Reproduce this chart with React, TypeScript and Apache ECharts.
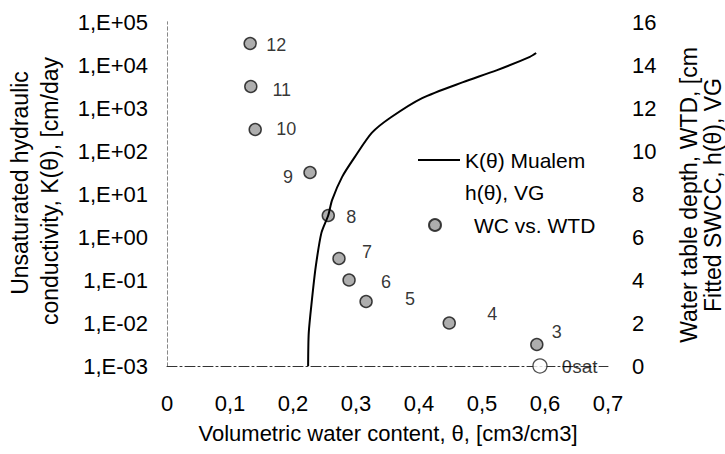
import React, { useEffect, useRef } from "react";
import * as echarts from "echarts";

// K(θ) Mualem curve
const thetaK = [0.224, 0.225, 0.23, 0.236, 0.245, 0.256, 0.262, 0.278, 0.298, 0.325, 0.355, 0.405, 0.47, 0.523, 0.576, 0.586];
const kValues = [0.001, 0.0059, 0.034, 0.2, 1.23, 3.2, 7.2, 25, 72, 263, 600, 1700, 4000, 7500, 15500, 19000];

// WC vs. WTD points
const pointIds = ["12", "11", "10", "9", "8", "7", "6", "5", "4", "3"];
const wcTheta = [0.132, 0.133, 0.14, 0.227, 0.256, 0.273, 0.289, 0.316, 0.448, 0.587];
const wtd = [15, 13, 11, 9, 7, 5, 4, 3, 2, 1];

// saturated water content point
const satTheta = [0.592];
const satWtd = [0];
const satLabel = "θsat";

// tick labels
const xTickLabels = ["0", "0,1", "0,2", "0,3", "0,4", "0,5", "0,6", "0,7"];
const kTickLabels = ["1,E-03", "1,E-02", "1,E-01", "1,E+00", "1,E+01", "1,E+02", "1,E+03", "1,E+04", "1,E+05"];

// label offsets (style)
const labelOffsets = [[26, 1], [31, 3], [31, -1], [-22, 4], [23, 1], [28, -7], [37, 2], [44, -3], [43, -9], [20, -13]];

const FONT = "Liberation Sans, Arial, sans-serif";
const TXT = "#000";

export default function App() {
  const ref = useRef<HTMLDivElement>(null);
  useEffect(() => {
    document.body.style.margin = "0";
    const chart = echarts.init(ref.current!, undefined, { renderer: "svg" });
    const curve = thetaK.map((t, i) => [t, kValues[i]]);
    const ptLabel = { fontSize: 18, color: TXT, textBorderWidth: 0, fontFamily: FONT };
    const pts = wcTheta.map((t, i) => ({
      value: [t, wtd[i]],
      name: pointIds[i],
      label: { ...ptLabel, offset: labelOffsets[i] },
    }));
    const sat = satTheta.map((t, i) => ({ value: [t, satWtd[i]], name: satLabel }));
    const markerStyle = { color: "#9a9a9a", borderColor: "#111", borderWidth: 1.5 };
    chart.setOption({
      animation: false,
      backgroundColor: "#fff",
      textStyle: { fontFamily: FONT },
      grid: { left: 167, right: 117, top: 22, bottom: 88 },
      xAxis: {
        type: "value",
        min: 0,
        max: 0.7,
        interval: 0.1,
        axisLine: { show: true, lineStyle: { color: "#333", width: 1, type: [10, 3, 2, 3] } },
        axisTick: { show: false },
        splitLine: { show: false },
        axisLabel: {
          margin: 26,
          fontSize: 22,
          color: TXT,
          fontFamily: FONT,
          formatter: (v: number) => xTickLabels[Math.round(v * 10)] ?? "",
        },
      },
      yAxis: [
        {
          type: "log",
          logBase: 10,
          min: 0.001,
          max: 100000,
          splitNumber: 8,
          axisLine: { show: true, onZero: false, lineStyle: { color: "#888", type: [3, 3] } },
          axisTick: { show: false },
          splitLine: { show: false },
          axisLabel: {
            margin: 19,
            fontSize: 22,
            color: TXT,
            fontFamily: FONT,
            formatter: (v: number) => kTickLabels[Math.round(Math.log10(v)) + 3] ?? "",
          },
        },
        {
          type: "value",
          min: 0,
          max: 16,
          interval: 2,
          position: "right",
          axisLine: { show: true, lineStyle: { color: "#888", type: [3, 3] } },
          axisTick: { show: false },
          splitLine: { show: false },
          axisLabel: { margin: 24, fontSize: 22, color: TXT, fontFamily: FONT },
        },
      ],
      legend: [
        {
          data: [{ name: "K(θ) Mualem", icon: "rect" }],
          left: 418,
          top: 148,
          padding: 0,
          selectedMode: false,
          itemWidth: 42,
          itemHeight: 2,
          textStyle: { fontSize: 21, color: TXT, fontFamily: FONT, lineHeight: 24 },
        },
        {
          data: [{ name: "h(θ), VG", icon: "rect", itemStyle: { opacity: 0 } }],
          left: 418,
          top: 180,
          padding: 0,
          selectedMode: false,
          itemWidth: 42,
          itemHeight: 12,
          textStyle: { fontSize: 21, color: TXT, fontFamily: FONT, lineHeight: 24 },
        },
        {
          data: ["WC vs. WTD"],
          left: 428,
          top: 213,
          padding: 0,
          selectedMode: false,
          itemWidth: 12,
          itemHeight: 12,
          textStyle: { fontSize: 21, color: TXT, fontFamily: FONT, lineHeight: 24, padding: [0, 0, 0, 28] },
        },
      ],
      series: [
        {
          name: "K(θ) Mualem",
          type: "line",
          yAxisIndex: 0,
          data: curve,
          symbol: "none",
          showSymbol: false,
          smooth: 0.25,
          lineStyle: { color: "#000", width: 2 },
          itemStyle: { color: "#000" },
        },
        {
          name: "h(θ), VG",
          type: "line",
          yAxisIndex: 1,
          data: [],
          symbol: "none",
          lineStyle: { color: "rgba(0,0,0,0)" },
          itemStyle: { color: "rgba(0,0,0,0)" },
        },
        {
          name: "WC vs. WTD",
          type: "scatter",
          yAxisIndex: 1,
          data: pts,
          symbol: "circle",
          symbolSize: 12,
          itemStyle: markerStyle,
          label: {
            show: true,
            position: "inside",
            formatter: "{b}",
            ...ptLabel,
          },
        },
        {
          name: "θsat",
          type: "scatter",
          yAxisIndex: 1,
          data: sat,
          symbol: "circle",
          symbolSize: 14,
          itemStyle: { color: "#fff", borderColor: "#222", borderWidth: 1.3 },
          label: {
            show: true,
            position: "right",
            distance: 14,
            formatter: "{b}",
            fontSize: 19,
            color: TXT,
            textBorderWidth: 0,
            fontFamily: FONT,
          },
        },
      ],
      graphic: [
        {
          type: "text",
          x: 20,
          y: 183,
          rotation: Math.PI / 2,
          style: { text: "Unsaturated hydraulic", font: `23px ${FONT}`, fill: TXT, textAlign: "center", textVerticalAlign: "middle" },
        },
        {
          type: "text",
          x: 50,
          y: 191,
          rotation: Math.PI / 2,
          style: { text: "conductivity, K(θ), [cm/day", font: `23px ${FONT}`, fill: TXT, textAlign: "center", textVerticalAlign: "middle" },
        },
        {
          type: "text",
          x: 689,
          y: 195,
          rotation: Math.PI / 2,
          style: { text: "Water table depth, WTD, [cm", font: `23px ${FONT}`, fill: TXT, textAlign: "center", textVerticalAlign: "middle" },
        },
        {
          type: "text",
          x: 713,
          y: 195,
          rotation: Math.PI / 2,
          style: { text: "Fitted SWCC, h(θ), VG", font: `23px ${FONT}`, fill: TXT, textAlign: "center", textVerticalAlign: "middle" },
        },
        {
          type: "text",
          x: 388,
          y: 433,
          style: { text: "Volumetric water content, θ, [cm3/cm3]", font: `22px ${FONT}`, fill: TXT, textAlign: "center", textVerticalAlign: "middle" },
        },
      ],
    });
    return () => chart.dispose();
  }, []);
  return <div ref={ref} style={{ width: 725, height: 454 }} />;
}
